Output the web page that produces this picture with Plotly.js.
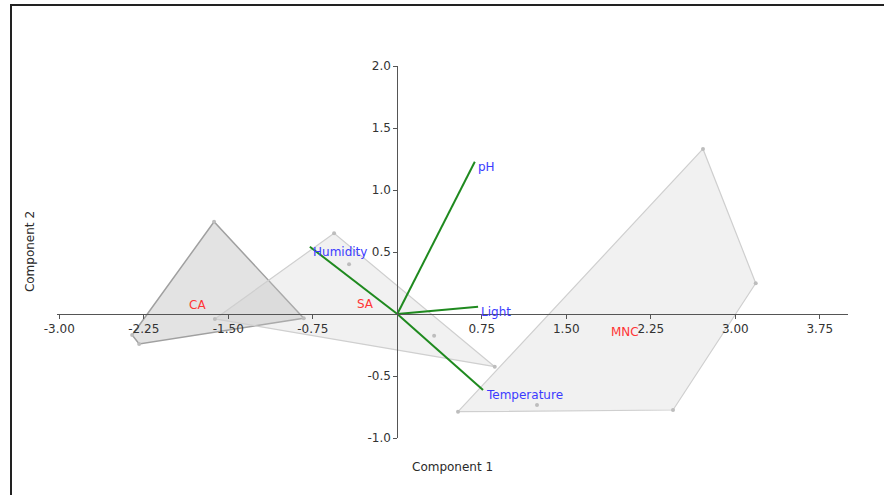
<!DOCTYPE html>
<html>
<head>
<meta charset="utf-8">
<script src="https://cdn.plot.ly/plotly-3.0.1.min.js"></script>
<style>
  html, body { margin: 0; padding: 0; background: #fff; }
  #wrap { position: relative; width: 884px; height: 495px; overflow: hidden; }
  #chart { width: 884px; height: 495px; }
  #frame { position: absolute; left: 10px; top: 4px; width: 900px; height: 520px;
           border-top: 2px solid #222; border-left: 2px solid #222; pointer-events: none; }
</style>
</head>
<body>
<div id="wrap"><div id="chart"></div><div id="frame"></div></div>
<script>
// ---- data ----
const groupNames = ["CA", "SA", "MNC"];
const caX  = [-1.626, -2.353, -2.291, -0.830];
const caY  = [ 0.744, -0.169, -0.242, -0.035];
const saX  = [-1.619, -0.561,  0.865, -0.428,  0.327];
const saY  = [-0.040,  0.651, -0.425,  0.401, -0.175];
const mncX = [ 2.713,  3.181,  2.447,  0.539,  1.240];
const mncY = [ 1.331,  0.248, -0.774, -0.788, -0.734];

const varNames = ["pH", "Light", "Humidity", "Temperature"];
const varX = [0.688, 0.717, -0.776, 0.761];
const varY = [1.228, 0.059,  0.543, -0.613];

const xTicks = [-3.00, -2.25, -1.50, -0.75, 0.75, 1.50, 2.25, 3.00, 3.75];
const yTicks = [-1.0, -0.5, 0.5, 1.0, 1.5, 2.0];
const xTitle = "Component 1";
const yTitle = "Component 2";

// ---- helpers ----
function hull(xs, ys) {
  const p = xs.map((x, i) => [x, ys[i]]).sort((a, b) => a[0] - b[0] || a[1] - b[1]);
  const cross = (o, a, b) => (a[0]-o[0])*(b[1]-o[1]) - (a[1]-o[1])*(b[0]-o[0]);
  const lower = [], upper = [];
  for (const q of p) { while (lower.length >= 2 && cross(lower[lower.length-2], lower[lower.length-1], q) <= 0) lower.pop(); lower.push(q); }
  for (let i = p.length - 1; i >= 0; i--) { const q = p[i]; while (upper.length >= 2 && cross(upper[upper.length-2], upper[upper.length-1], q) <= 0) upper.pop(); upper.push(q); }
  upper.pop(); lower.pop();
  const h = lower.concat(upper);
  h.push(h[0]);
  return h;
}
const mean = a => a.reduce((s, v) => s + v, 0) / a.length;

const groups = [
  {name: groupNames[0], x: caX,  y: caY,  fill: "rgba(150,150,150,0.27)", line: "#a0a0a0", lw: 1.5},
  {name: groupNames[1], x: saX,  y: saY,  fill: "rgba(200,200,200,0.25)", line: "#cfcfcf", lw: 1.2},
  {name: groupNames[2], x: mncX, y: mncY, fill: "rgba(200,200,200,0.25)", line: "#cfcfcf", lw: 1.2}
];

const traces = [];
groups.forEach(g => {
  const h = hull(g.x, g.y);
  traces.push({
    type: "scatter", mode: "lines", x: h.map(p => p[0]), y: h.map(p => p[1]),
    fill: "toself", fillcolor: g.fill, line: {color: g.line, width: g.lw},
    hoverinfo: "skip", showlegend: false
  });
});
groups.forEach(g => {
  traces.push({
    type: "scatter", mode: "markers", x: g.x, y: g.y,
    marker: {size: 4, color: "#bdbdbd"}, showlegend: false, hoverinfo: "x+y"
  });
});
varNames.forEach((n, i) => {
  traces.push({
    type: "scatter", mode: "lines", x: [0, varX[i]], y: [0, varY[i]],
    line: {color: "#1f8a1f", width: 2}, showlegend: false, hoverinfo: "skip"
  });
});

const annotations = [];
varNames.forEach((n, i) => {
  annotations.push({
    x: varX[i], y: varY[i], xref: "x", yref: "y", text: n, showarrow: false,
    xanchor: "left", yanchor: "middle", xshift: 1, yshift: -5,
    font: {family: "DejaVu Sans", size: 12, color: "#3b3bff"}
  });
});
groups.forEach(g => {
  annotations.push({
    x: mean(g.x), y: mean(g.y), xref: "x", yref: "y", text: g.name, showarrow: false,
    xanchor: "center", yanchor: "middle",
    font: {family: "DejaVu Sans", size: 12, color: "#ff3535"}
  });
});
annotations.push({
  x: 0.5, y: -0.078, xref: "paper", yref: "paper", text: xTitle, showarrow: false,
  xanchor: "center", yanchor: "middle", font: {family: "DejaVu Sans", size: 12, color: "#2a2a2a"}
});
annotations.push({
  x: -0.034, y: 0.5, xref: "paper", yref: "paper", text: yTitle, showarrow: false, textangle: -90,
  xanchor: "center", yanchor: "middle", font: {family: "DejaVu Sans", size: 12, color: "#2a2a2a"}
});

const xMin = -3.02, xMax = 4.0, yMin = -1.0, yMax = 2.0;

const layout = {
  width: 884, height: 495,
  margin: {l: 57, r: 36, t: 66, b: 57},
  paper_bgcolor: "#fff", plot_bgcolor: "#fff",
  showlegend: false,
  xaxis: {
    range: [xMin, xMax], anchor: "free", position: (0 - yMin) / (yMax - yMin),
    showgrid: false, zeroline: false, showline: true, linecolor: "#555", linewidth: 1,
    ticks: "outside", ticklen: 4, tickcolor: "#555",
    tickmode: "array", tickvals: xTicks, ticktext: xTicks.map(v => v.toFixed(2)),
    tickfont: {family: "DejaVu Sans", size: 12, color: "#333"}
  },
  yaxis: {
    range: [yMin, yMax], anchor: "free", position: (0 - xMin) / (xMax - xMin),
    showgrid: false, zeroline: false, showline: true, linecolor: "#555", linewidth: 1,
    ticks: "outside", ticklen: 4, tickcolor: "#555",
    tickmode: "array", tickvals: yTicks, ticktext: yTicks.map(v => v.toFixed(1)),
    tickfont: {family: "DejaVu Sans", size: 12, color: "#333"}
  },
  annotations: annotations
};

Plotly.newPlot("chart", traces, layout, {displayModeBar: false, staticPlot: true});
</script>
</body>
</html>
